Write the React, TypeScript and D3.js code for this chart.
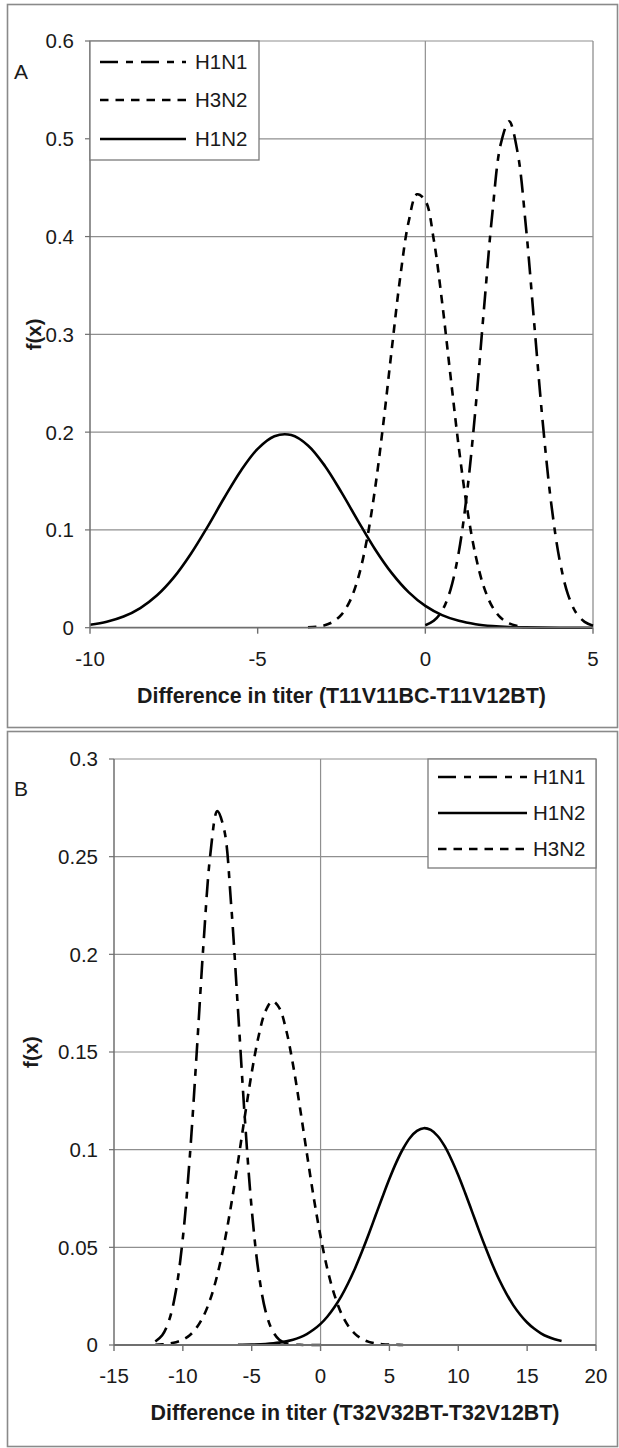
import React from "react";
import * as d3 from "d3";

// ---------- Data ----------
const SERIES_NAMES = ["H1N1", "H3N2", "H1N2"];

// Panel A
const X_TICKS_A = [-10, -5, 0, 5];
const Y_TICKS_A = [0, 0.1, 0.2, 0.3, 0.4, 0.5, 0.6];
const Y_LABELS_A = ["0", "0.1", "0.2", "0.3", "0.4", "0.5", "0.6"];
const TITLE_A = "Difference in titer (T11V11BC-T11V12BT)";
const LEGEND_A = ["H1N1", "H3N2", "H1N2"];

const A_H1N1_X = [0, 0.25, 0.5, 0.75, 1, 1.25, 1.5, 1.75, 2, 2.25, 2.5, 2.75, 3, 3.25, 3.5, 3.75, 4, 4.25, 4.5, 4.75, 5];
const A_H1N1_Y = [0.0025, 0.007, 0.0174, 0.0388, 0.0778, 0.1398, 0.2255, 0.3266, 0.4243, 0.4948, 0.5178, 0.4863, 0.4099, 0.31, 0.2104, 0.1282, 0.0701, 0.0344, 0.0151, 0.006, 0.0021];

const A_H3N2_X = [-3.5, -3.25, -3, -2.75, -2.5, -2.25, -2, -1.75, -1.5, -1.25, -1, -0.75, -0.5, -0.25, 0, 0.25, 0.5, 0.75, 1, 1.25, 1.5, 1.75, 2, 2.25, 2.5, 2.75];
const A_H3N2_Y = [0.0004, 0.001, 0.0025, 0.0061, 0.0134, 0.0272, 0.0512, 0.0888, 0.142, 0.2096, 0.2852, 0.3581, 0.4148, 0.4432, 0.4368, 0.3971, 0.333, 0.2577, 0.1839, 0.1211, 0.0736, 0.0412, 0.0213, 0.0101, 0.0045, 0.0018];

const A_H1N2_X = [-10, -9.5, -9, -8.5, -8, -7.5, -7, -6.5, -6, -5.5, -5, -4.5, -4, -3.5, -3, -2.5, -2, -1.5, -1, -0.5, 0, 0.5, 1, 1.5, 2, 2.5, 3, 3.5, 4, 4.5, 5];
const A_H1N2_Y = [0.0031, 0.0061, 0.0114, 0.0201, 0.0331, 0.0514, 0.0751, 0.1029, 0.1326, 0.1606, 0.1829, 0.1958, 0.197, 0.1864, 0.1657, 0.1384, 0.1088, 0.0803, 0.0558, 0.0364, 0.0223, 0.0129, 0.007, 0.0036, 0.0017, 0.0007, 0.0003, 0.0001, 0, 0, 0];

// Panel B
const X_TICKS_B = [-15, -10, -5, 0, 5, 10, 15, 20];
const Y_TICKS_B = [0, 0.05, 0.1, 0.15, 0.2, 0.25, 0.3];
const Y_LABELS_B = ["0", "0.05", "0.1", "0.15", "0.2", "0.25", "0.3"];
const TITLE_B = "Difference in titer (T32V32BT-T32V12BT)";
const LEGEND_B = ["H1N1", "H1N2", "H3N2"];

const B_H1N1_X = [-12, -11.5, -11, -10.5, -10, -9.5, -9, -8.5, -8, -7.5, -7, -6.5, -6, -5.5, -5, -4.5, -4, -3.5, -3, -2.5, -2, -1.5, -1, -0.5, 0];
const B_H1N1_Y = [0.0018, 0.005, 0.0126, 0.0279, 0.0549, 0.096, 0.1491, 0.2055, 0.2515, 0.2733, 0.2638, 0.226, 0.1719, 0.1161, 0.0696, 0.0371, 0.0175, 0.0074, 0.0027, 0.0009, 0.0003, 0.0001, 0, 0, 0];

const B_H3N2_X = [-12, -11.5, -11, -10.5, -10, -9.5, -9, -8.5, -8, -7.5, -7, -6.5, -6, -5.5, -5, -4.5, -4, -3.5, -3, -2.5, -2, -1.5, -1, -0.5, 0, 0.5, 1, 1.5, 2, 2.5, 3, 3.5, 4, 4.5, 5, 5.5, 6];
const B_H3N2_Y = [0.0001, 0.0003, 0.0007, 0.0014, 0.0027, 0.005, 0.0089, 0.0148, 0.0236, 0.0358, 0.0518, 0.0714, 0.0936, 0.1171, 0.1394, 0.1581, 0.1709, 0.176, 0.1726, 0.1613, 0.1435, 0.1217, 0.0983, 0.0756, 0.0555, 0.0387, 0.0258, 0.0163, 0.0099, 0.0057, 0.0031, 0.0016, 0.0008, 0.0004, 0.0002, 0.0001, 0];

const B_H1N2_X = [-6, -5, -4, -3, -2, -1.5, -1, -0.5, 0, 0.5, 1, 1.5, 2, 2.5, 3, 3.5, 4, 4.5, 5, 5.5, 6, 6.5, 7, 7.5, 8, 8.5, 9, 9.5, 10, 10.5, 11, 11.5, 12, 12.5, 13, 13.5, 14, 14.5, 15, 15.5, 16, 16.5, 17, 17.5];
const B_H1N2_Y = [0.0001, 0.0002, 0.0005, 0.0012, 0.0027, 0.0039, 0.0056, 0.0079, 0.0108, 0.0146, 0.0193, 0.0249, 0.0316, 0.0392, 0.0477, 0.0568, 0.0664, 0.0759, 0.0851, 0.0935, 0.1006, 0.1061, 0.1096, 0.111, 0.1101, 0.107, 0.1019, 0.095, 0.0869, 0.0778, 0.0683, 0.0587, 0.0495, 0.0408, 0.033, 0.0262, 0.0203, 0.0155, 0.0115, 0.0084, 0.006, 0.0042, 0.0029, 0.002];

// ---------- Styling ----------
const FONT = "'Liberation Sans', Arial, Helvetica, sans-serif";
const TEXT = "#1a1a1a";
const GRID = "#8f8f8f";
const AXIS = "#6f6f6f";
const DASH: Record<string, string | undefined> = {
  H1N1: "18,8,7,8",
  H3N2: "8.5,7",
  H1N2: undefined,
};

const zip = (xs: number[], ys: number[]) => xs.map((x, i) => [x, ys[i]] as [number, number]);

type PanelProps = {
  box: [number, number, number, number];
  plot: { l: number; r: number; t: number; b: number };
  xDomain: [number, number];
  yDomain: [number, number];
  xTicks: number[];
  yTicks: number[];
  yLabels: string[];
  title: string;
  letter: string;
  letterPos: [number, number];
  fxX: number;
  series: { name: string; pts: [number, number][] }[];
  legend: { x: number; y: number; w: number; h: number; rows: number[]; lineX: [number, number]; textX: number; names: string[] };
};

function Panel(p: PanelProps) {
  const { plot } = p;
  const x = d3.scaleLinear().domain(p.xDomain).range([plot.l, plot.r]);
  const y = d3.scaleLinear().domain(p.yDomain).range([plot.b, plot.t]);
  const line = d3
    .line<[number, number]>()
    .x((d) => x(d[0]))
    .y((d) => Math.min(plot.b, y(d[1])))
    .curve(d3.curveCatmullRom.alpha(0.5));
  const fs = 20.5;
  return (
    <g>
      <rect x={p.box[0] + 0.5} y={p.box[1] + 0.5} width={p.box[2]} height={p.box[3]} fill="white" stroke="#8a8a8a" strokeWidth={1.6} />
      {/* gridlines */}
      {p.yTicks.slice(1).map((t) => (
        <line key={"g" + t} x1={plot.l} x2={plot.r} y1={y(t)} y2={y(t)} stroke={GRID} strokeWidth={1.2} />
      ))}
      <line x1={plot.r} x2={plot.r} y1={plot.t} y2={plot.b} stroke={GRID} strokeWidth={1.3} />
      <line x1={x(0)} x2={x(0)} y1={plot.t} y2={plot.b} stroke={GRID} strokeWidth={1.2} />
      {/* curves */}
      {p.series.map((s) => (
        <path key={s.name} d={line(s.pts) || ""} fill="none" stroke="#000" strokeWidth={2.6} strokeDasharray={DASH[s.name]} strokeLinejoin="round" />
      ))}
      {/* axes */}
      <line x1={plot.l} x2={plot.l} y1={plot.t} y2={plot.b} stroke={AXIS} strokeWidth={1.5} />
      <line x1={plot.l} x2={plot.r} y1={plot.b} y2={plot.b} stroke={AXIS} strokeWidth={1.8} />
      {p.xTicks.map((t) => (
        <line key={"xt" + t} x1={x(t)} x2={x(t)} y1={plot.b} y2={plot.b + 6} stroke={AXIS} strokeWidth={1.4} />
      ))}
      {p.yTicks.map((t) => (
        <line key={"yt" + t} x1={plot.l - 5} x2={plot.l} y1={y(t)} y2={y(t)} stroke={AXIS} strokeWidth={1.2} />
      ))}
      {/* tick labels */}
      {p.xTicks.map((t) => (
        <text key={"xl" + t} x={x(t)} y={plot.b + 38} textAnchor="middle" fontFamily={FONT} fontSize={fs} fill={TEXT}>
          {String(t)}
        </text>
      ))}
      {p.yTicks.map((t, i) => (
        <text key={"yl" + t} x={plot.l - 16} y={y(t)} dy="0.36em" textAnchor="end" fontFamily={FONT} fontSize={fs} fill={TEXT}>
          {p.yLabels[i]}
        </text>
      ))}
      {/* axis titles */}
      <text x={(plot.l + plot.r) / 2} y={plot.b + 75} textAnchor="middle" fontFamily={FONT} fontSize={21.4} fontWeight="bold" fill={TEXT}>
        {p.title}
      </text>
      <text transform={`translate(${p.fxX},${(plot.t + plot.b) / 2}) rotate(-90)`} dy="0.36em" textAnchor="middle" fontFamily={FONT} fontSize={20.5} fontWeight="bold" fill={TEXT}>
        f(x)
      </text>
      <text x={p.letterPos[0]} y={p.letterPos[1]} fontFamily={FONT} fontSize={21} fill={TEXT}>
        {p.letter}
      </text>
      {/* legend */}
      <rect x={p.legend.x} y={p.legend.y} width={p.legend.w} height={p.legend.h} fill="white" stroke="#7a7a7a" strokeWidth={1.3} />
      {p.legend.names.map((n, i) => (
        <g key={"lg" + n}>
          <line x1={p.legend.lineX[0]} x2={p.legend.lineX[1]} y1={p.legend.rows[i]} y2={p.legend.rows[i]} stroke="#000" strokeWidth={2.4} strokeDasharray={DASH[n]} />
          <text x={p.legend.textX} y={p.legend.rows[i]} dy="0.36em" fontFamily={FONT} fontSize={fs} fill={TEXT}>
            {n}
          </text>
        </g>
      ))}
    </g>
  );
}

export default function App() {
  const panelA: PanelProps = {
    box: [7, 4, 610, 723],
    plot: { l: 90, r: 593, t: 41, b: 627.7 },
    xDomain: [-10, 5],
    yDomain: [0, 0.6],
    xTicks: X_TICKS_A,
    yTicks: Y_TICKS_A,
    yLabels: Y_LABELS_A,
    title: TITLE_A,
    letter: "A",
    letterPos: [14, 79],
    fxX: 33.5,
    series: [
      { name: SERIES_NAMES[2], pts: zip(A_H1N2_X, A_H1N2_Y) },
      { name: SERIES_NAMES[1], pts: zip(A_H3N2_X, A_H3N2_Y) },
      { name: SERIES_NAMES[0], pts: zip(A_H1N1_X, A_H1N1_Y) },
    ],
    legend: { x: 90, y: 41, w: 169, h: 119, rows: [62, 100, 139], lineX: [100, 186], textX: 195, names: LEGEND_A },
  };
  const panelB: PanelProps = {
    box: [7, 731, 610, 715],
    plot: { l: 114, r: 596, t: 759, b: 1345 },
    xDomain: [-15, 20],
    yDomain: [0, 0.3],
    xTicks: X_TICKS_B,
    yTicks: Y_TICKS_B,
    yLabels: Y_LABELS_B,
    title: TITLE_B,
    letter: "B",
    letterPos: [14, 796],
    fxX: 31,
    series: [
      { name: SERIES_NAMES[2], pts: zip(B_H1N2_X, B_H1N2_Y) },
      { name: SERIES_NAMES[1], pts: zip(B_H3N2_X, B_H3N2_Y) },
      { name: SERIES_NAMES[0], pts: zip(B_H1N1_X, B_H1N1_Y) },
    ],
    legend: { x: 428, y: 759, w: 168, h: 109, rows: [777, 813, 849], lineX: [438, 527], textX: 533, names: LEGEND_B },
  };
  return (
    <svg width={619} height={1448} style={{ position: "absolute", left: 0, top: 0, background: "white" }}>
      <rect x={0} y={0} width={619} height={1448} fill="white" />
      <Panel {...panelA} />
      <Panel {...panelB} />
    </svg>
  );
}
